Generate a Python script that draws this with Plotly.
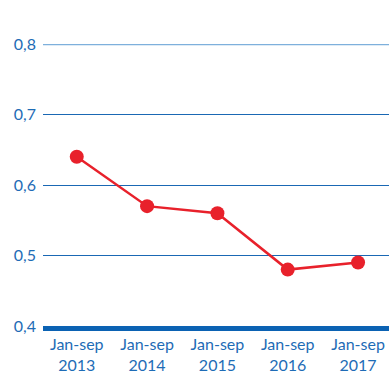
import plotly.graph_objects as go

categories = ["Jan-sep<br>2013", "Jan-sep<br>2014", "Jan-sep<br>2015", "Jan-sep<br>2016", "Jan-sep<br>2017"]
values = [0.64, 0.57, 0.56, 0.48, 0.49]
y_ticks = [0.4, 0.5, 0.6, 0.7, 0.8]
y_labels = ["0,4", "0,5", "0,6", "0,7", "0,8"]

blue = "#1e6cb6"
fig = go.Figure()
fig.add_trace(go.Scatter(
    x=list(range(len(categories))), y=values, mode="lines+markers",
    line=dict(color="#e8212b", width=2.5),
    marker=dict(color="#e8212b", size=14),
    showlegend=False, cliponaxis=False,
))
fig.add_hline(y=0.8, line=dict(color="#7eb0dc", width=2.5), layer="below")
fig.update_layout(
    width=389, height=374,
    margin=dict(l=43, r=0, t=44, b=48),
    plot_bgcolor="white", paper_bgcolor="white",
    font=dict(family="Lato", color=blue, size=16),
    xaxis=dict(
        range=[-0.48, 4.44], tickmode="array",
        tickvals=list(range(len(categories))), ticktext=categories,
        showgrid=False, zeroline=False, showline=True,
        linecolor="#0b62b3", linewidth=5, ticks="",
        tickfont=dict(size=16), automargin=False, ticklabelstandoff=0,
    ),
    yaxis=dict(
        range=[0.4, 0.8], tickmode="array", tickvals=y_ticks, ticktext=y_labels,
        showgrid=True, gridcolor="#1a68b4", gridwidth=1, zeroline=False,
        ticks="", ticklabelstandoff=6, tickfont=dict(size=16), automargin=False,
    ),
)
fig.write_html("out.html")
